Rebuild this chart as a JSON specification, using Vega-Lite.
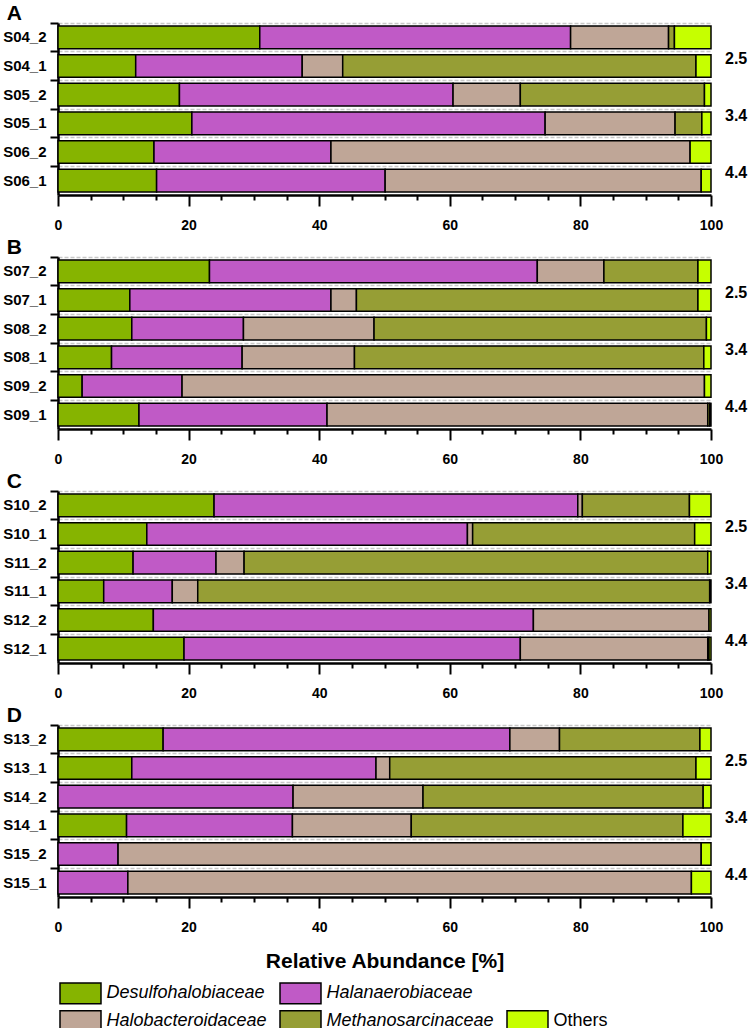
{
  "$schema": "https://vega.github.io/schema/vega-lite/v6.json",
  "padding": {"left": 2, "top": 3, "right": 4, "bottom": 0},
  "datasets": {
    "bars": [
      {"panel":"A","sample":"S04_2","family":"Desulfohalobiaceae","value":30.9},
      {"panel":"A","sample":"S04_2","family":"Halanaerobiaceae","value":47.6},
      {"panel":"A","sample":"S04_2","family":"Halobacteroidaceae","value":15.0},
      {"panel":"A","sample":"S04_2","family":"Methanosarcinaceae","value":0.9},
      {"panel":"A","sample":"S04_2","family":"Others","value":5.6},
      {"panel":"A","sample":"S04_1","family":"Desulfohalobiaceae","value":11.9},
      {"panel":"A","sample":"S04_1","family":"Halanaerobiaceae","value":25.5},
      {"panel":"A","sample":"S04_1","family":"Halobacteroidaceae","value":6.2},
      {"panel":"A","sample":"S04_1","family":"Methanosarcinaceae","value":54.1},
      {"panel":"A","sample":"S04_1","family":"Others","value":2.3},
      {"panel":"A","sample":"S05_2","family":"Desulfohalobiaceae","value":18.6},
      {"panel":"A","sample":"S05_2","family":"Halanaerobiaceae","value":41.9},
      {"panel":"A","sample":"S05_2","family":"Halobacteroidaceae","value":10.3},
      {"panel":"A","sample":"S05_2","family":"Methanosarcinaceae","value":28.2},
      {"panel":"A","sample":"S05_2","family":"Others","value":1.0},
      {"panel":"A","sample":"S05_1","family":"Desulfohalobiaceae","value":20.5},
      {"panel":"A","sample":"S05_1","family":"Halanaerobiaceae","value":54.1},
      {"panel":"A","sample":"S05_1","family":"Halobacteroidaceae","value":19.9},
      {"panel":"A","sample":"S05_1","family":"Methanosarcinaceae","value":4.1},
      {"panel":"A","sample":"S05_1","family":"Others","value":1.4},
      {"panel":"A","sample":"S06_2","family":"Desulfohalobiaceae","value":14.7},
      {"panel":"A","sample":"S06_2","family":"Halanaerobiaceae","value":27.1},
      {"panel":"A","sample":"S06_2","family":"Halobacteroidaceae","value":55.0},
      {"panel":"A","sample":"S06_2","family":"Others","value":3.2},
      {"panel":"A","sample":"S06_1","family":"Desulfohalobiaceae","value":15.1},
      {"panel":"A","sample":"S06_1","family":"Halanaerobiaceae","value":35.0},
      {"panel":"A","sample":"S06_1","family":"Halobacteroidaceae","value":48.4},
      {"panel":"A","sample":"S06_1","family":"Others","value":1.5},
      {"panel":"B","sample":"S07_2","family":"Desulfohalobiaceae","value":23.2},
      {"panel":"B","sample":"S07_2","family":"Halanaerobiaceae","value":50.2},
      {"panel":"B","sample":"S07_2","family":"Halobacteroidaceae","value":10.2},
      {"panel":"B","sample":"S07_2","family":"Methanosarcinaceae","value":14.4},
      {"panel":"B","sample":"S07_2","family":"Others","value":2.0},
      {"panel":"B","sample":"S07_1","family":"Desulfohalobiaceae","value":11.0},
      {"panel":"B","sample":"S07_1","family":"Halanaerobiaceae","value":30.8},
      {"panel":"B","sample":"S07_1","family":"Halobacteroidaceae","value":3.9},
      {"panel":"B","sample":"S07_1","family":"Methanosarcinaceae","value":52.3},
      {"panel":"B","sample":"S07_1","family":"Others","value":2.0},
      {"panel":"B","sample":"S08_2","family":"Desulfohalobiaceae","value":11.3},
      {"panel":"B","sample":"S08_2","family":"Halanaerobiaceae","value":17.1},
      {"panel":"B","sample":"S08_2","family":"Halobacteroidaceae","value":20.0},
      {"panel":"B","sample":"S08_2","family":"Methanosarcinaceae","value":50.9},
      {"panel":"B","sample":"S08_2","family":"Others","value":0.7},
      {"panel":"B","sample":"S08_1","family":"Desulfohalobiaceae","value":8.2},
      {"panel":"B","sample":"S08_1","family":"Halanaerobiaceae","value":20.0},
      {"panel":"B","sample":"S08_1","family":"Halobacteroidaceae","value":17.2},
      {"panel":"B","sample":"S08_1","family":"Methanosarcinaceae","value":53.5},
      {"panel":"B","sample":"S08_1","family":"Others","value":1.1},
      {"panel":"B","sample":"S09_2","family":"Desulfohalobiaceae","value":3.7},
      {"panel":"B","sample":"S09_2","family":"Halanaerobiaceae","value":15.3},
      {"panel":"B","sample":"S09_2","family":"Halobacteroidaceae","value":80.0},
      {"panel":"B","sample":"S09_2","family":"Others","value":1.0},
      {"panel":"B","sample":"S09_1","family":"Desulfohalobiaceae","value":12.4},
      {"panel":"B","sample":"S09_1","family":"Halanaerobiaceae","value":28.8},
      {"panel":"B","sample":"S09_1","family":"Halobacteroidaceae","value":58.3},
      {"panel":"B","sample":"S09_1","family":"Methanosarcinaceae","value":0.3},
      {"panel":"B","sample":"S09_1","family":"Others","value":0.2},
      {"panel":"C","sample":"S10_2","family":"Desulfohalobiaceae","value":23.9},
      {"panel":"C","sample":"S10_2","family":"Halanaerobiaceae","value":55.7},
      {"panel":"C","sample":"S10_2","family":"Halobacteroidaceae","value":0.7},
      {"panel":"C","sample":"S10_2","family":"Methanosarcinaceae","value":16.4},
      {"panel":"C","sample":"S10_2","family":"Others","value":3.3},
      {"panel":"C","sample":"S10_1","family":"Desulfohalobiaceae","value":13.6},
      {"panel":"C","sample":"S10_1","family":"Halanaerobiaceae","value":49.1},
      {"panel":"C","sample":"S10_1","family":"Halobacteroidaceae","value":0.8},
      {"panel":"C","sample":"S10_1","family":"Methanosarcinaceae","value":34.0},
      {"panel":"C","sample":"S10_1","family":"Others","value":2.5},
      {"panel":"C","sample":"S11_2","family":"Desulfohalobiaceae","value":11.5},
      {"panel":"C","sample":"S11_2","family":"Halanaerobiaceae","value":12.7},
      {"panel":"C","sample":"S11_2","family":"Halobacteroidaceae","value":4.3},
      {"panel":"C","sample":"S11_2","family":"Methanosarcinaceae","value":71.0},
      {"panel":"C","sample":"S11_2","family":"Others","value":0.5},
      {"panel":"C","sample":"S11_1","family":"Desulfohalobiaceae","value":7.0},
      {"panel":"C","sample":"S11_1","family":"Halanaerobiaceae","value":10.5},
      {"panel":"C","sample":"S11_1","family":"Halobacteroidaceae","value":3.9},
      {"panel":"C","sample":"S11_1","family":"Methanosarcinaceae","value":78.4},
      {"panel":"C","sample":"S11_1","family":"Others","value":0.2},
      {"panel":"C","sample":"S12_2","family":"Desulfohalobiaceae","value":14.6},
      {"panel":"C","sample":"S12_2","family":"Halanaerobiaceae","value":58.2},
      {"panel":"C","sample":"S12_2","family":"Halobacteroidaceae","value":26.9},
      {"panel":"C","sample":"S12_2","family":"Others","value":0.3},
      {"panel":"C","sample":"S12_1","family":"Desulfohalobiaceae","value":19.3},
      {"panel":"C","sample":"S12_1","family":"Halanaerobiaceae","value":51.5},
      {"panel":"C","sample":"S12_1","family":"Halobacteroidaceae","value":28.7},
      {"panel":"C","sample":"S12_1","family":"Methanosarcinaceae","value":0.2},
      {"panel":"C","sample":"S12_1","family":"Others","value":0.3},
      {"panel":"D","sample":"S13_2","family":"Desulfohalobiaceae","value":16.1},
      {"panel":"D","sample":"S13_2","family":"Halanaerobiaceae","value":53.1},
      {"panel":"D","sample":"S13_2","family":"Halobacteroidaceae","value":7.6},
      {"panel":"D","sample":"S13_2","family":"Methanosarcinaceae","value":21.5},
      {"panel":"D","sample":"S13_2","family":"Others","value":1.7},
      {"panel":"D","sample":"S13_1","family":"Desulfohalobiaceae","value":11.3},
      {"panel":"D","sample":"S13_1","family":"Halanaerobiaceae","value":37.4},
      {"panel":"D","sample":"S13_1","family":"Halobacteroidaceae","value":2.1},
      {"panel":"D","sample":"S13_1","family":"Methanosarcinaceae","value":46.9},
      {"panel":"D","sample":"S13_1","family":"Others","value":2.3},
      {"panel":"D","sample":"S14_2","family":"Halanaerobiaceae","value":36.0},
      {"panel":"D","sample":"S14_2","family":"Halobacteroidaceae","value":19.9},
      {"panel":"D","sample":"S14_2","family":"Methanosarcinaceae","value":42.9},
      {"panel":"D","sample":"S14_2","family":"Others","value":1.2},
      {"panel":"D","sample":"S14_1","family":"Desulfohalobiaceae","value":10.5},
      {"panel":"D","sample":"S14_1","family":"Halanaerobiaceae","value":25.4},
      {"panel":"D","sample":"S14_1","family":"Halobacteroidaceae","value":18.2},
      {"panel":"D","sample":"S14_1","family":"Methanosarcinaceae","value":41.6},
      {"panel":"D","sample":"S14_1","family":"Others","value":4.3},
      {"panel":"D","sample":"S15_2","family":"Halanaerobiaceae","value":9.2},
      {"panel":"D","sample":"S15_2","family":"Halobacteroidaceae","value":89.3},
      {"panel":"D","sample":"S15_2","family":"Others","value":1.5},
      {"panel":"D","sample":"S15_1","family":"Halanaerobiaceae","value":10.7},
      {"panel":"D","sample":"S15_1","family":"Halobacteroidaceae","value":86.3},
      {"panel":"D","sample":"S15_1","family":"Others","value":3.0}
    ],
    "ph": [
      {"panel":"A","sample":"S04_1","ph":"2.5"},
      {"panel":"A","sample":"S05_1","ph":"3.4"},
      {"panel":"A","sample":"S06_1","ph":"4.4"},
      {"panel":"B","sample":"S07_1","ph":"2.5"},
      {"panel":"B","sample":"S08_1","ph":"3.4"},
      {"panel":"B","sample":"S09_1","ph":"4.4"},
      {"panel":"C","sample":"S10_1","ph":"2.5"},
      {"panel":"C","sample":"S11_1","ph":"3.4"},
      {"panel":"C","sample":"S12_1","ph":"4.4"},
      {"panel":"D","sample":"S13_1","ph":"2.5"},
      {"panel":"D","sample":"S14_1","ph":"3.4"},
      {"panel":"D","sample":"S15_1","ph":"4.4"}
    ]
  },
  "config": {
    "font": "Liberation Sans",
    "view": {"stroke": null},
    "concat": {"spacing": 5},
    "title": {"anchor": "start", "frame": "bounds", "fontSize": 21, "fontWeight": "bold", "color": "black", "dx": 4, "offset": -2},
    "axisX": {
      "values": [0,4,8,12,16,20,24,28,32,36,40,44,48,52,56,60,64,68,72,76,80,84,88,92,96,100],
      "labelExpr": "datum.value % 20 === 0 ? datum.label : ''",
      "tickSize": {"condition": {"test": "datum.value % 20 === 0", "value": 11}, "value": 5},
      "tickWidth": 2, "tickColor": "black", "domainColor": "black", "domainWidth": 2.5,
      "labelFontSize": 14, "labelFontWeight": "bold", "labelColor": "black", "labelPadding": 12,
      "labelOverlap": false, "labelFlush": false, "grid": false,
      "titleFontSize": 21, "titleFontWeight": "bold", "titleColor": "black", "titlePadding": 16
    },
    "axisY": {
      "title": null, "bandPosition": 0,
      "tickSize": 8, "tickWidth": 2, "tickColor": "black", "domainColor": "black", "domainWidth": 2.5,
      "labelFontSize": 15, "labelFontWeight": "bold", "labelColor": "black", "labelPadding": 4,
      "grid": true, "gridDash": [4, 2], "gridColor": "#c8c8c8", "gridWidth": 1.5
    },
    "legend": {
      "orient": "none", "legendX": 1, "legendY": 958, "columns": 3, "title": null,
      "symbolType": "M-1,-0.932L2.727,-0.932L2.727,0.932L-1,0.932Z", "symbolSize": 484,
      "symbolStrokeColor": "black", "symbolStrokeWidth": 1.5,
      "labelFontSize": 18, "labelColor": "black", "labelOffset": 23.5, "labelLimit": 0,
      "columnPadding": 10, "rowPadding": 0
    }
  },
  "resolve": {"scale": {"x": "independent", "y": "independent", "color": "shared"}},
  "vconcat": [
    {
      "title": {"text": "A"},
      "width": 653, "height": 172,
      "layer": [
        {
          "data": {"name": "bars"},
          "transform": [{"filter": "datum.panel === 'A'"}],
          "mark": {"type": "bar", "stroke": "black", "strokeWidth": 1.5, "height": {"band": 0.79}},
          "encoding": {
            "y": {"field": "sample", "type": "nominal", "sort": null, "scale": {"paddingInner": 0, "paddingOuter": 0}},
            "x": {"field": "value", "type": "quantitative", "stack": "zero", "scale": {"domain": [0, 100], "nice": false}, "axis": {"title": null}},
            "color": {
              "field": "family", "type": "nominal",
              "scale": {"domain": ["Desulfohalobiaceae", "Halobacteroidaceae", "Halanaerobiaceae", "Methanosarcinaceae", " ", "Others"],
                        "range": ["#86b400", "#bfa697", "#c05ac6", "#969e35", "#ffffff", "#c6ff00"]},
              "legend": {
                "encoding": {
                  "labels": {"fontStyle": {"condition": {"test": "datum.label === 'Others'", "value": "normal"}, "value": "italic"}},
                  "symbols": {"opacity": {"condition": {"test": "datum.label === ' '", "value": 0}, "value": 1}}
                }
              }
            }
          }
        },
        {
          "data": {"name": "ph"},
          "transform": [{"filter": "datum.panel === 'A'"}],
          "mark": {"type": "text", "align": "left", "baseline": "middle", "dx": 14, "dy": 7, "fontSize": 16, "fontWeight": "bold", "color": "black"},
          "encoding": {
            "y": {"field": "sample", "type": "nominal", "sort": null, "bandPosition": 0},
            "x": {"datum": 100},
            "text": {"field": "ph"}
          }
        }
      ]
    },
    {
      "title": {"text": "B"},
      "width": 653, "height": 172,
      "layer": [
        {
          "data": {"name": "bars"},
          "transform": [{"filter": "datum.panel === 'B'"}],
          "mark": {"type": "bar", "stroke": "black", "strokeWidth": 1.5, "height": {"band": 0.79}},
          "encoding": {
            "y": {"field": "sample", "type": "nominal", "sort": null, "scale": {"paddingInner": 0, "paddingOuter": 0}},
            "x": {"field": "value", "type": "quantitative", "stack": "zero", "scale": {"domain": [0, 100], "nice": false}, "axis": {"title": null}},
            "color": {"field": "family", "type": "nominal"}
          }
        },
        {
          "data": {"name": "ph"},
          "transform": [{"filter": "datum.panel === 'B'"}],
          "mark": {"type": "text", "align": "left", "baseline": "middle", "dx": 14, "dy": 7, "fontSize": 16, "fontWeight": "bold", "color": "black"},
          "encoding": {
            "y": {"field": "sample", "type": "nominal", "sort": null, "bandPosition": 0},
            "x": {"datum": 100},
            "text": {"field": "ph"}
          }
        }
      ]
    },
    {
      "title": {"text": "C"},
      "width": 653, "height": 172,
      "layer": [
        {
          "data": {"name": "bars"},
          "transform": [{"filter": "datum.panel === 'C'"}],
          "mark": {"type": "bar", "stroke": "black", "strokeWidth": 1.5, "height": {"band": 0.79}},
          "encoding": {
            "y": {"field": "sample", "type": "nominal", "sort": null, "scale": {"paddingInner": 0, "paddingOuter": 0}},
            "x": {"field": "value", "type": "quantitative", "stack": "zero", "scale": {"domain": [0, 100], "nice": false}, "axis": {"title": null}},
            "color": {"field": "family", "type": "nominal"}
          }
        },
        {
          "data": {"name": "ph"},
          "transform": [{"filter": "datum.panel === 'C'"}],
          "mark": {"type": "text", "align": "left", "baseline": "middle", "dx": 14, "dy": 7, "fontSize": 16, "fontWeight": "bold", "color": "black"},
          "encoding": {
            "y": {"field": "sample", "type": "nominal", "sort": null, "bandPosition": 0},
            "x": {"datum": 100},
            "text": {"field": "ph"}
          }
        }
      ]
    },
    {
      "title": {"text": "D"},
      "width": 653, "height": 172,
      "layer": [
        {
          "data": {"name": "bars"},
          "transform": [{"filter": "datum.panel === 'D'"}],
          "mark": {"type": "bar", "stroke": "black", "strokeWidth": 1.5, "height": {"band": 0.79}},
          "encoding": {
            "y": {"field": "sample", "type": "nominal", "sort": null, "scale": {"paddingInner": 0, "paddingOuter": 0}},
            "x": {"field": "value", "type": "quantitative", "stack": "zero", "scale": {"domain": [0, 100], "nice": false}, "axis": {"title": "Relative Abundance [%]"}},
            "color": {"field": "family", "type": "nominal"}
          }
        },
        {
          "data": {"name": "ph"},
          "transform": [{"filter": "datum.panel === 'D'"}],
          "mark": {"type": "text", "align": "left", "baseline": "middle", "dx": 14, "dy": 7, "fontSize": 16, "fontWeight": "bold", "color": "black"},
          "encoding": {
            "y": {"field": "sample", "type": "nominal", "sort": null, "bandPosition": 0},
            "x": {"datum": 100},
            "text": {"field": "ph"}
          }
        }
      ]
    }
  ]
}
